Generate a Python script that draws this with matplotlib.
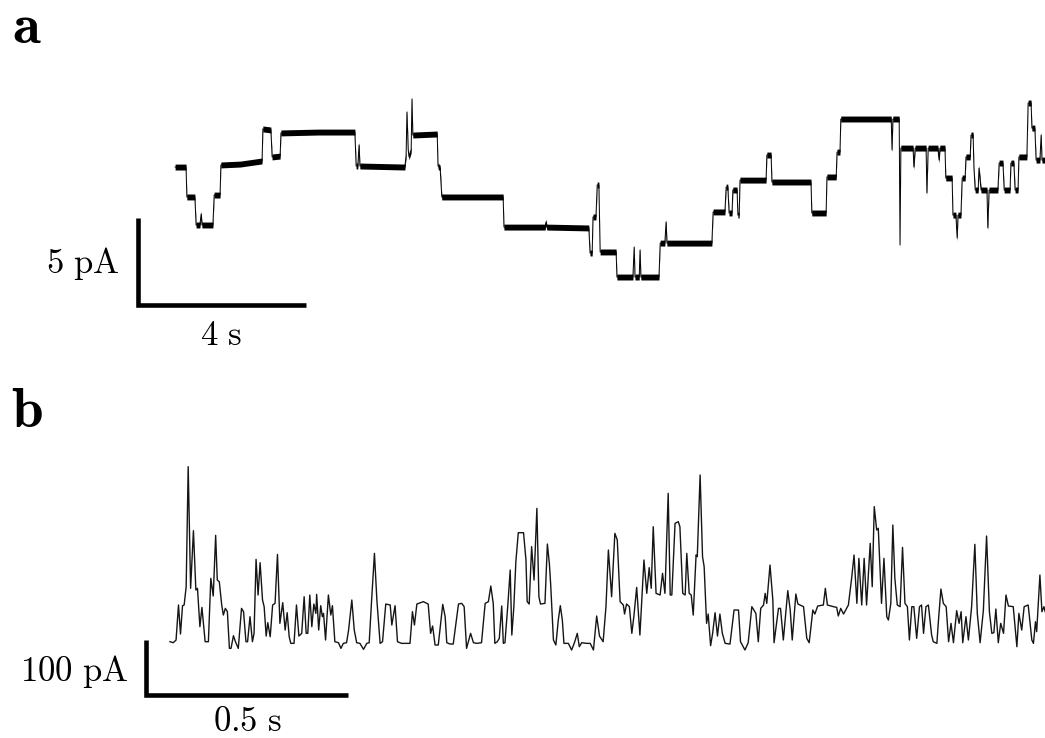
import numpy as np
import matplotlib
matplotlib.use('Agg')
import matplotlib.pyplot as plt

plt.rcParams['mathtext.fontset'] = 'cm'

# trace a: single channel steps, time in s, current in pA
a_time = [0.05, 0.31, 0.33, 0.52, 0.55, 0.64, 0.67, 0.69, 0.95, 0.98,
          1.12, 1.14, 1.60, 2.12, 2.14, 2.33, 2.36, 2.55, 2.57, 3.45,
          4.33, 4.36, 4.40, 4.43, 4.45, 5.52, 5.55, 5.57, 5.60, 5.62,
          5.67, 5.69, 5.71, 6.29, 6.31, 6.36, 6.40, 7.86, 7.88, 8.86,
          8.88, 8.90, 9.90, 9.93, 9.98, 10.00, 10.07, 10.10, 10.14, 10.17,
          10.55, 10.57, 10.95, 10.98, 11.00, 11.10, 11.12, 11.14, 11.57, 11.60,
          11.71, 11.74, 11.76, 12.83, 12.86, 13.14, 13.17, 13.21, 13.24, 13.31,
          13.33, 13.43, 13.45, 13.48, 13.50, 14.12, 14.14, 14.24, 14.26, 15.19,
          15.21, 15.55, 15.57, 15.79, 15.81, 15.88, 15.90, 17.10, 17.12, 17.14,
          17.29, 17.31, 17.33, 17.62, 17.64, 17.67, 17.93, 17.95, 17.98, 18.21,
          18.24, 18.26, 18.38, 18.40, 18.55, 18.57, 18.64, 18.67, 18.69, 18.76,
          18.79, 18.86, 18.88, 18.98, 19.00, 19.05, 19.07, 19.10, 19.17, 19.19,
          19.24, 19.38, 19.40, 19.43, 19.64, 19.67, 19.76, 19.79, 19.93, 19.95,
          20.02, 20.05, 20.12, 20.14, 20.33, 20.36, 20.43, 20.45, 20.52, 20.55,
          20.64, 20.67, 20.69, 20.76]
a_curr = [6.32, 6.32, 4.60, 4.60, 2.99, 2.99, 3.62, 2.99, 2.99, 4.71,
          4.71, 6.44, 6.49, 6.67, 8.51, 8.45, 6.90, 6.95, 8.28, 8.33,
          8.33, 6.38, 6.38, 7.59, 6.38, 6.32, 7.01, 9.48, 7.30, 6.90,
          7.30, 10.23, 8.16, 8.22, 6.38, 6.26, 4.60, 4.60, 2.87, 2.87,
          3.16, 2.87, 2.82, 1.38, 1.38, 3.45, 3.45, 5.29, 5.29, 1.44,
          1.44, 0.00, 0.00, 1.72, 0.00, 0.00, 1.55, 0.00, 0.00, 1.95,
          1.95, 3.16, 1.95, 1.95, 3.74, 3.74, 5.17, 5.17, 3.68, 3.68,
          5.00, 5.00, 3.56, 3.56, 5.57, 5.57, 7.01, 7.01, 5.46, 5.46,
          3.68, 3.68, 5.75, 5.75, 7.18, 7.18, 9.08, 9.08, 7.30, 9.08,
          9.08, 1.84, 7.41, 7.41, 6.32, 7.41, 7.41, 4.83, 7.41, 7.41,
          6.72, 7.41, 7.41, 5.69, 5.69, 3.56, 3.56, 2.24, 3.56, 3.56,
          5.69, 5.69, 6.90, 6.90, 8.16, 8.16, 6.26, 5.00, 5.00, 6.26,
          5.00, 5.00, 2.82, 5.00, 5.00, 6.55, 6.55, 5.00, 5.00, 6.55,
          6.55, 5.00, 5.00, 6.90, 6.90, 10.00, 10.00, 8.56, 8.56, 6.72,
          6.72, 8.16, 6.72, 6.72]

# trace b: bursting current, time in ms, current in pA
b_time = [0, 8, 15, 21, 26, 31, 35, 40, 45, 51,
          58, 64, 68, 74, 79, 87, 95, 101, 107, 113,
          117, 122, 128, 132, 137, 142, 147, 151, 157, 162,
          169, 177, 182, 188, 192, 198, 204, 208, 213, 218,
          223, 229, 233, 238, 242, 248, 254, 260, 266, 272,
          279, 285, 290, 295, 299, 307, 313, 319, 326, 332,
          337, 341, 346, 351, 356, 361, 363, 368, 373, 377,
          380, 385, 392, 398, 402, 408, 417, 423, 429, 437,
          442, 450, 456, 462, 470, 479, 487, 493, 499, 506,
          512, 520, 526, 534, 545, 549, 557, 563, 573, 586,
          594, 600, 605, 611, 627, 639, 645, 650, 656, 664,
          675, 681, 685, 693, 701, 714, 722, 728, 734, 744,
          751, 759, 771, 780, 788, 794, 800, 804, 810, 815,
          821, 825, 829, 836, 842, 846, 851, 856, 862, 875,
          881, 884, 889, 895, 901, 908, 913, 917, 928, 934,
          939, 942, 949, 955, 961, 966, 971, 975, 986, 994,
          1001, 1008, 1013, 1019, 1031, 1040, 1048, 1056, 1063, 1072,
          1079, 1085, 1093, 1101, 1107, 1114, 1122, 1125, 1130, 1137,
          1143, 1148, 1155, 1163, 1173, 1180, 1186, 1191, 1196, 1203,
          1213, 1219, 1225, 1233, 1238, 1242, 1250, 1258, 1262, 1269,
          1275, 1279, 1285, 1290, 1295, 1302, 1305, 1312, 1318, 1322,
          1328, 1332, 1338, 1343, 1349, 1355, 1361, 1367, 1374, 1386,
          1396, 1407, 1412, 1423, 1431, 1440, 1450, 1456, 1462, 1469,
          1473, 1477, 1485, 1492, 1495, 1506, 1511, 1518, 1529, 1535,
          1540, 1549, 1554, 1568, 1576, 1582, 1591, 1596, 1603, 1617,
          1622, 1627, 1642, 1650, 1654, 1660, 1667, 1679, 1687, 1693,
          1700, 1705, 1712, 1718, 1724, 1733, 1738, 1743, 1749, 1753,
          1761, 1767, 1774, 1778, 1784, 1789, 1794, 1800, 1807, 1813,
          1819, 1825, 1830, 1836, 1841, 1848, 1855, 1860, 1865, 1871,
          1877, 1885, 1889, 1898, 1902, 1908, 1914, 1921, 1927, 1933,
          1939, 1947, 1953, 1958, 1962, 1970, 1976, 1984, 1992, 1998,
          2005, 2013, 2021, 2028, 2034, 2039, 2044, 2050, 2056, 2063,
          2069, 2075, 2087, 2096, 2101, 2108, 2114, 2124, 2133, 2137,
          2142, 2145, 2153, 2158, 2163, 2166]
b_curr = [2.4, 0.6, 5.5, 69.1, 16.4, 67.9, 69.1, 102.4, 320.6, 99.4,
          204.2, 96.4, 99.4, 29.7, 64.8, 2.4, 2.4, 117.6, 85.5, 195.8,
          114.5, 111.5, 69.1, 50.9, 63.0, 57.0, -9.7, -9.7, 13.3, 2.4,
          -9.7, 63.0, 57.0, 2.4, 2.4, 47.9, 2.4, 17.6, 152.1, 87.3,
          146.1, 78.2, 66.1, 12.7, 37.0, 11.5, 69.1, 72.1, 161.2, 35.8,
          73.3, 23.6, 55.2, 11.5, -0.6, -0.6, 69.1, 12.7, 17.6, 84.2,
          17.6, 17.6, 87.3, 29.7, 70.9, 53.9, 88.5, 23.6, 67.9, 47.9,
          53.9, 5.5, 87.3, 50.9, 67.9, 2.4, 0.6, -9.7, -0.6, 0.6,
          23.6, 78.2, 23.6, 0.6, -0.6, -11.5, -0.6, 0.6, 78.2, 163.0,
          78.2, -0.6, 2.4, 70.9, 69.1, 32.7, 67.9, 2.4, -0.6, -0.6,
          -0.6, 57.0, 32.7, 70.9, 75.2, 70.9, 17.6, 30.9, -3.6, -3.6,
          70.3, 47.9, 0.6, -1.8, -1.8, 70.9, 72.1, 66.1, -9.7, 17.6,
          0.6, -0.6, 0.6, 72.1, 75.2, 103.6, 72.1, -0.6, 2.4, 8.5,
          67.3, -0.6, 0.6, 67.9, 132.7, 14.5, 66.1, 147.9, 200.6, 200.6,
          150.9, 75.2, 70.9, 175.2, 114.5, 244.8, 84.2, 70.9, 72.1, 180.0,
          143.6, 108.5, 5.5, -3.6, 41.8, 67.9, 41.8, -0.6, -0.6, -12.7,
          0.6, 17.6, -6.7, 0.6, -0.6, -0.6, -12.7, 49.1, 12.7, 2.4,
          66.1, 169.1, 84.2, 199.4, 187.3, 75.2, 69.1, 52.7, 70.9, 66.1,
          17.6, 47.9, 101.2, 14.5, 150.9, 90.3, 137.0, 99.4, 211.5, 90.3,
          87.3, 126.7, 90.3, 272.1, 87.3, 87.3, 217.6, 220.6, 211.5, 90.3,
          87.3, 163.0, 90.3, 87.3, 50.9, 160.0, 157.0, 305.5, 157.0, 138.8,
          35.8, 52.7, -4.8, 17.6, 55.2, 12.7, 52.7, 17.6, -0.6, -1.8,
          60.0, 60.0, 2.4, -12.7, 0.6, 66.1, 53.9, 2.4, 63.0, 69.1,
          90.3, 72.1, 141.8, 78.2, 0.6, 63.0, 63.0, 5.5, 95.2, 60.0,
          5.5, 89.1, 70.9, 66.1, 8.5, 0.6, 60.0, 52.7, 67.3, 69.1,
          99.4, 69.1, 66.1, 64.8, 49.1, 63.0, 52.7, 69.1, 117.6, 160.0,
          72.1, 153.9, 69.1, 153.9, 69.1, 181.2, 102.4, 247.9, 205.5, 208.5,
          72.1, 153.9, 47.9, 41.8, 72.1, 214.5, 117.6, 69.1, 66.1, 173.9,
          72.1, 66.1, 5.5, 66.1, 66.1, 8.5, 66.1, 69.1, 17.6, 66.1,
          69.1, 14.5, 2.4, -0.6, 41.8, 98.2, 72.1, 66.1, 2.4, 35.8,
          0.6, 58.8, 35.8, 57.0, 0.6, 47.9, 5.5, 66.1, 179.4, 53.9,
          0.6, 58.8, 194.5, 57.0, 17.6, 18.8, 61.8, 0.6, 35.8, 17.6,
          87.3, 67.3, 66.1, -6.7, 53.9, 23.6, 66.1, 69.1, 5.5, -0.6,
          38.8, 20.6, 123.6, 57.0, 66.1, 57.0]

# scale bars (size and label)
a_bar_t, a_bar_i = 4, 5          # s, pA
b_bar_t, b_bar_i = 500, 100      # ms, pA

fig = plt.figure(figsize=(10.45, 7.38), dpi=100)

# panel a
ax1 = fig.add_axes([0, 0.5528, 1, 0.3388])
ax1.set_xlim(-4.119, 20.762)
ax1.set_ylim(-3.046, 11.322)
ax1.axis('off')
ta = np.array(a_time)
ia = np.array(a_curr)
ax1.fill_between(ta, ia - 0.17, ia + 0.17, color='k', lw=0)   # noise band
ax1.plot(ta, ia, color='k', lw=0.7)
x0, y0 = -0.83, -1.61
ax1.plot([x0, x0, x0 + a_bar_t], [y0 + a_bar_i, y0, y0], color='k', lw=3.3,
         solid_joinstyle='miter', solid_capstyle='butt')

# panel b
ax2 = fig.add_axes([0, 0.0379, 1, 0.3659])
ax2.set_xlim(-420.75, 2165.6)
ax2.set_ylim(-121.8, 369.1)
ax2.axis('off')
ax2.plot(b_time, b_curr, color='#151515', lw=1.0, solid_joinstyle='round')
x0, y0 = -59.4, -94.5
ax2.plot([x0, x0, x0 + b_bar_t], [y0 + b_bar_i, y0, y0], color='k', lw=3.3,
         solid_joinstyle='miter', solid_capstyle='butt')

# labels
fig.text(0.0115, 0.9417, r'$\mathbf{a}$', fontsize=41, va='baseline')
fig.text(0.0105, 0.4214, r'$\mathbf{b}$', fontsize=41, va='baseline')
fig.text(0.1148, 0.6301, r'$\mathrm{%d\ pA}$' % a_bar_i, fontsize=25, ha='right', va='baseline')
fig.text(0.2115, 0.5325, r'$\mathrm{%d\ s}$' % a_bar_t, fontsize=25, ha='center', va='baseline')
fig.text(0.1225, 0.0772, r'$\mathrm{%d\ pA}$' % b_bar_i, fontsize=25, ha='right', va='baseline')
fig.text(0.2364, 0.0095, r'$\mathrm{%.1f\ s}$' % (b_bar_t / 1000), fontsize=25, ha='center', va='baseline')

fig.savefig('out.png', dpi=100)
